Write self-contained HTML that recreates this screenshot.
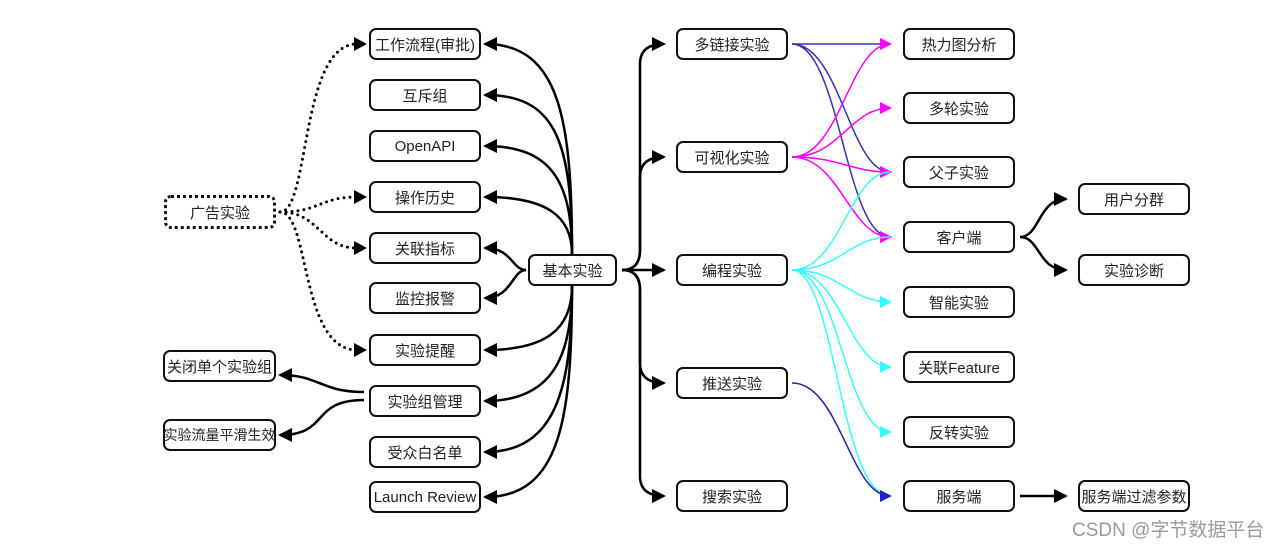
<!DOCTYPE html>
<html><head><meta charset="utf-8"><style>
html,body{margin:0;padding:0;background:#fff;}
body{width:1280px;height:548px;overflow:hidden;position:relative;font-family:"Liberation Sans","Noto Sans CJK SC",sans-serif;}
.b{position:absolute;box-sizing:border-box;border:2.5px solid #111;border-radius:7px;background:#fff;display:flex;align-items:center;justify-content:center;font-size:15px;color:#222;white-space:nowrap;}
.d{border:3px dotted #111;}
svg{position:absolute;left:0;top:0;}
.wm{position:absolute;left:1072px;top:515px;font-size:19px;color:#9a9a9a;white-space:nowrap;}
</style></head><body>
<svg width="1280" height="548" viewBox="0 0 1280 548">
<defs>
<marker id="ab" markerWidth="14" markerHeight="14" refX="12" refY="7" orient="auto" markerUnits="userSpaceOnUse"><path d="M0,0 L14,7 L0,14 Z" fill="#000"/></marker>
<marker id="am" markerWidth="12" markerHeight="12" refX="10" refY="6" orient="auto" markerUnits="userSpaceOnUse"><path d="M0,0 L12,6 L0,12 Z" fill="#f0f"/></marker>
<marker id="ac" markerWidth="12" markerHeight="12" refX="10" refY="6" orient="auto" markerUnits="userSpaceOnUse"><path d="M0,0 L12,6 L0,12 Z" fill="#3ff"/></marker>
<marker id="an" markerWidth="12" markerHeight="12" refX="10" refY="6" orient="auto" markerUnits="userSpaceOnUse"><path d="M0,0 L12,6 L0,12 Z" fill="#22c"/></marker>
</defs>
<g fill="none" stroke="#000" stroke-width="2.5">
<path d="M572,254 C572,120 560,44 485,44" marker-end="url(#ab)"/>
<path d="M572,254 C572,140 555,95 485,95" marker-end="url(#ab)"/>
<path d="M572,254 C572,180 550,146 485,146" marker-end="url(#ab)"/>
<path d="M572,254 C572,215 545,197 485,197" marker-end="url(#ab)"/>
<path d="M526,270 C512,270 512,248 485,248" marker-end="url(#ab)"/>
<path d="M526,270 C512,270 512,298 485,298" marker-end="url(#ab)"/>
<path d="M572,286 C572,330 545,350 485,350" marker-end="url(#ab)"/>
<path d="M572,286 C572,360 550,401 485,401" marker-end="url(#ab)"/>
<path d="M572,286 C572,390 555,452 485,452" marker-end="url(#ab)"/>
<path d="M572,286 C572,420 560,497 485,497" marker-end="url(#ab)"/>
<path d="M364,392 C320,392 320,375 280,375" marker-end="url(#ab)"/>
<path d="M364,400 C310,400 330,435 280,435" marker-end="url(#ab)"/>
<path d="M622,270 Q640,270 640,250 L640,64 Q640,44 664,44" marker-end="url(#ab)"/>
<path d="M622,270 Q640,270 640,250 L640,177 Q640,157 664,157" marker-end="url(#ab)"/>
<path d="M622,270 L664,270" marker-end="url(#ab)"/>
<path d="M622,270 Q640,270 640,290 L640,363 Q640,383 664,383" marker-end="url(#ab)"/>
<path d="M622,270 Q640,270 640,290 L640,476 Q640,496 664,496" marker-end="url(#ab)"/>
<path d="M1020,237 C1040,237 1038,199 1066,199" marker-end="url(#ab)"/>
<path d="M1020,237 C1040,237 1038,270 1066,270" marker-end="url(#ab)"/>
<path d="M1020,496 L1066,496" marker-end="url(#ab)"/>
</g>
<g fill="none" stroke="#000" stroke-width="3" stroke-dasharray="0 6" stroke-linecap="round">
<path d="M280,212 C310,212 300,44 357,44"/>
<path d="M280,212 C320,212 320,197 357,197"/>
<path d="M280,212 C320,212 320,248 357,248"/>
<path d="M280,212 C310,212 300,350 357,350"/>
</g>
<g fill="#000">
<path d="M354,37 L367,44 L354,51 Z"/><path d="M354,190 L367,197 L354,204 Z"/><path d="M354,241 L367,248 L354,255 Z"/><path d="M354,343 L367,350 L354,357 Z"/>
</g>
<g fill="none" stroke-width="1.5">
<path d="M792,44 L890,44" stroke="#33c" marker-end="url(#am)"/>
<path d="M792,44 C840,44 850,172 890,172" stroke="#33a" marker-end="url(#am)"/>
<path d="M792,44 C840,44 845,237 890,237" stroke="#33a" marker-end="url(#am)"/>
<path d="M792,157 C840,157 850,44 890,44" stroke="#f0f" marker-end="url(#am)"/>
<path d="M792,157 C840,157 850,108 890,108" stroke="#f0f" marker-end="url(#am)"/>
<path d="M792,157 C840,157 850,172 890,172" stroke="#f0f" marker-end="url(#am)"/>
<path d="M792,157 C840,157 850,237 890,237" stroke="#f0f" marker-end="url(#am)"/>
<path d="M792,270 C840,270 850,172 890,172" stroke="#3ff"/>
<path d="M792,270 C840,270 850,237 890,237" stroke="#3ff"/>
<path d="M792,270 C840,270 850,302 890,302" stroke="#3ff" marker-end="url(#ac)"/>
<path d="M792,270 C840,270 850,367 890,367" stroke="#3ff" marker-end="url(#ac)"/>
<path d="M792,270 C840,270 845,432 890,432" stroke="#3ff" marker-end="url(#ac)"/>
<path d="M792,270 C835,270 840,496 890,496" stroke="#3ff"/>
<path d="M792,383 C840,383 850,496 890,496" stroke="#22a" marker-end="url(#an)"/>
</g>
</svg>
<div class="b" style="left:369px;top:28px;width:112px;height:32px">工作流程(审批)</div>
<div class="b" style="left:369px;top:79px;width:112px;height:32px">互斥组</div>
<div class="b" style="left:369px;top:130px;width:112px;height:32px">OpenAPI</div>
<div class="b" style="left:369px;top:181px;width:112px;height:32px">操作历史</div>
<div class="b" style="left:369px;top:232px;width:112px;height:32px">关联指标</div>
<div class="b" style="left:369px;top:282px;width:112px;height:32px">监控报警</div>
<div class="b" style="left:369px;top:334px;width:112px;height:32px">实验提醒</div>
<div class="b" style="left:369px;top:385px;width:112px;height:32px">实验组管理</div>
<div class="b" style="left:369px;top:436px;width:112px;height:32px">受众白名单</div>
<div class="b" style="left:369px;top:481px;width:112px;height:32px">Launch Review</div>
<div class="b d" style="left:164px;top:195px;width:112px;height:34px">广告实验</div>
<div class="b" style="left:163px;top:350px;width:113px;height:32px">关闭单个实验组</div>
<div class="b" style="left:163px;top:419px;width:113px;height:32px;font-size:14px">实验流量平滑生效</div>
<div class="b" style="left:528px;top:254px;width:89px;height:32px">基本实验</div>
<div class="b" style="left:676px;top:28px;width:112px;height:32px">多链接实验</div>
<div class="b" style="left:676px;top:141px;width:112px;height:32px">可视化实验</div>
<div class="b" style="left:676px;top:254px;width:112px;height:32px">编程实验</div>
<div class="b" style="left:676px;top:367px;width:112px;height:32px">推送实验</div>
<div class="b" style="left:676px;top:480px;width:112px;height:32px">搜索实验</div>
<div class="b" style="left:903px;top:28px;width:112px;height:32px">热力图分析</div>
<div class="b" style="left:903px;top:92px;width:112px;height:32px">多轮实验</div>
<div class="b" style="left:903px;top:156px;width:112px;height:32px">父子实验</div>
<div class="b" style="left:903px;top:221px;width:112px;height:32px">客户端</div>
<div class="b" style="left:903px;top:286px;width:112px;height:32px">智能实验</div>
<div class="b" style="left:903px;top:351px;width:112px;height:32px">关联Feature</div>
<div class="b" style="left:903px;top:416px;width:112px;height:32px">反转实验</div>
<div class="b" style="left:903px;top:480px;width:112px;height:32px">服务端</div>
<div class="b" style="left:1078px;top:183px;width:112px;height:32px">用户分群</div>
<div class="b" style="left:1078px;top:254px;width:112px;height:32px">实验诊断</div>
<div class="b" style="left:1078px;top:480px;width:112px;height:32px">服务端过滤参数</div>
<div class="wm">CSDN @字节数据平台</div>
</body></html>
